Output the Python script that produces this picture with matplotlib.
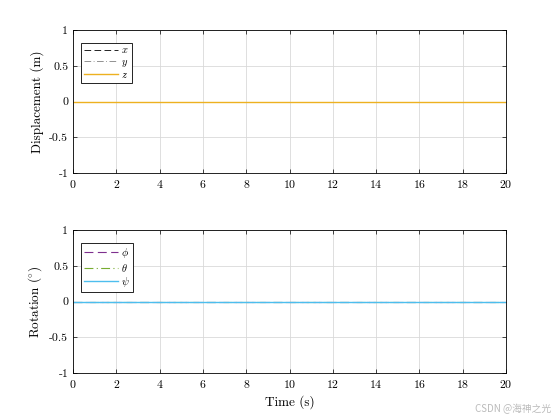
import matplotlib
matplotlib.use("Agg")
import matplotlib.pyplot as plt

plt.rcParams['font.family'] = 'serif'
plt.rcParams['font.serif'] = ['cmr10', 'DejaVu Serif']
plt.rcParams['mathtext.fontset'] = 'cm'
plt.rcParams['axes.formatter.use_mathtext'] = True
plt.rcParams['font.size'] = 8.5

time = [0, 20]
disp_x = [0, 0]
disp_y = [0, 0]
disp_z = [0, 0]
rot_phi = [0, 0]
rot_theta = [0, 0]
rot_psi = [0, 0]
yticks = [-1, -0.5, 0, 0.5, 1]
xticks = list(range(0, 21, 2))

fig = plt.figure(figsize=(5.6, 4.2), dpi=100)
ax1 = fig.add_axes([73/560, 1-173/420, 433/560, 143/420])
ax2 = fig.add_axes([73/560, 1-373/420, 433/560, 143/420])

ax1.plot(time, disp_x, color='k', ls=(0, (8, 4)), lw=0.6, label='$x$')
ax1.plot(time, disp_y, color='#808080', ls=(0, (8, 3, 1, 3)), lw=0.6, label='$y$')
ax1.plot(time, disp_z, color='#EDB120', lw=1.0, label='$z$')
ax1.set_ylabel('Displacement (m)', fontsize=9.5)

ax2.plot(time, rot_phi, color='#7E2F8E', ls=(0, (8, 4)), lw=0.8, label=r'$\phi$')
ax2.plot(time, rot_theta, color='#77AC30', ls=(0, (8, 3, 1, 3)), lw=0.8, label=r'$\theta$')
ax2.plot(time, rot_psi, color='#4DBEEE', lw=1.0, label=r'$\psi$')
ax2.set_ylabel(r'Rotation ($^{\circ}$)', fontsize=9.5)
ax2.set_xlabel('Time (s)', fontsize=9.5)

for ax in (ax1, ax2):
    ax.set_xlim(0, 20)
    ax.set_ylim(-1, 1)
    ax.set_xticks(xticks)
    ax.set_yticks(yticks)
    ax.set_yticklabels(['-1', '-0.5', '0', '0.5', '1'])
    ax.grid(True, color='#d9d9d9', lw=0.6)
    ax.tick_params(direction='in', length=3, width=0.5, top=True, right=True)
    for s in ax.spines.values():
        s.set_linewidth(0.6)
    leg = ax.legend(loc='upper left', fancybox=False, edgecolor='k', framealpha=1,
                    handlelength=3.3, handletextpad=0.3, borderpad=0.3,
                    labelspacing=0.15, fontsize=7.5, borderaxespad=0,
                    bbox_to_anchor=(0.018, 0.91))
    leg.get_frame().set_linewidth(0.6)

fig.text(0.985, 0.015, 'CSDN @海神之光', ha='right', va='bottom', color='#bbbbbb',
         fontsize=7, family=['Noto Sans CJK SC', 'DejaVu Sans'])
fig.savefig('out.png', dpi=100)
